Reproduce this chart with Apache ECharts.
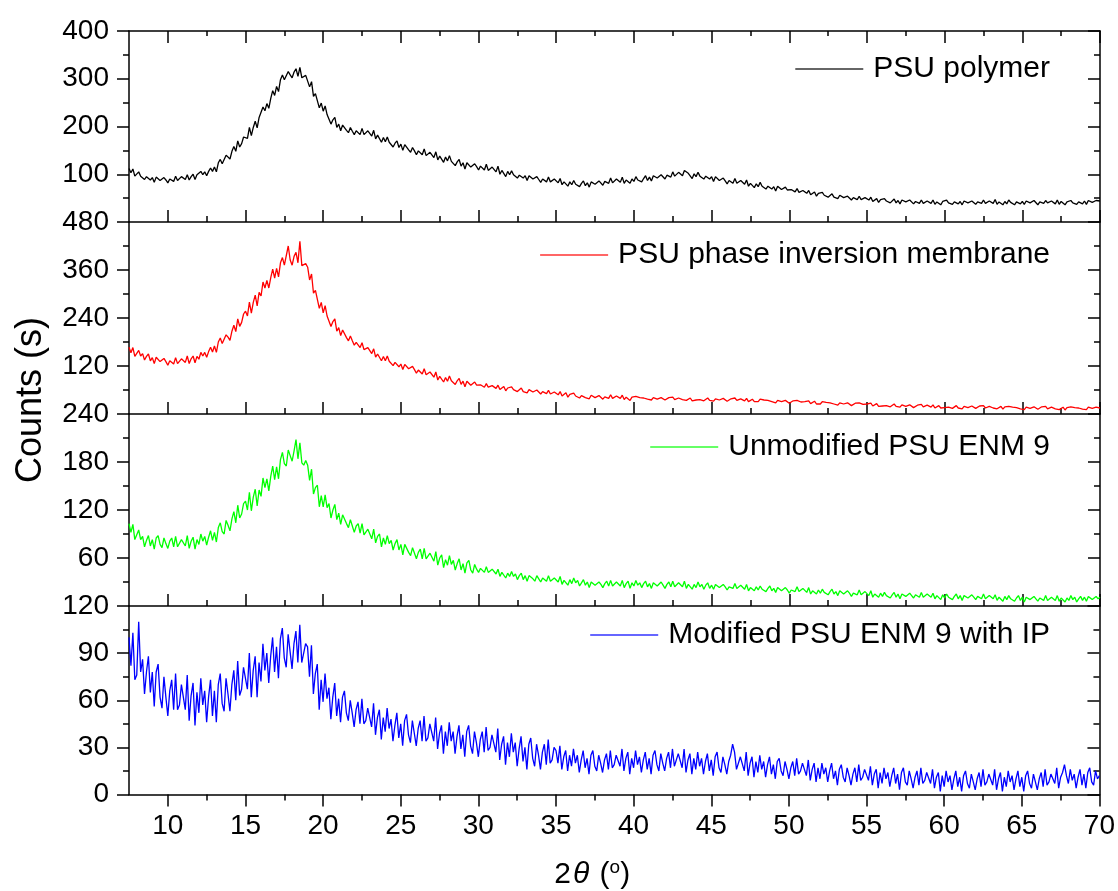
<!DOCTYPE html>
<html>
<head>
<meta charset="utf-8">
<script src="https://cdn.jsdelivr.net/npm/echarts@6/dist/echarts.min.js"></script>
<style>html,body{margin:0;padding:0;background:#fff}#chart{width:1118px;height:891px}</style>
</head>
<body>
<div id="chart"></div>
<script>
// Scan grid (2θ, degrees): first angle and step of the diffractometer scan
const angleStart = 7.5;
const angleStep = 0.125;

const seriesNames = ['PSU polymer', 'PSU phase inversion membrane', 'Unmodified PSU ENM 9', 'Modified PSU ENM 9 with IP'];
const seriesColors = ['#000000', '#ff0000', '#00ff00', '#0000ff'];

const psuPolymer = [
112,103,111,96,
97,105,96,99,89,95,99,88,
93,83,94,96,87,84,93,88,
82,90,93,85,96,87,89,95,
95,89,99,88,95,100,89,99,
95,106,99,105,97,106,113,106,
115,105,124,131,122,122,140,137,
132,148,158,148,170,157,164,178,
182,175,198,181,198,211,197,219,
216,241,233,248,238,259,275,265,
284,273,298,308,298,295,315,308,
302,314,321,305,324,302,300,307,
303,283,294,263,269,268,239,249,
232,243,225,226,205,214,219,198,
205,191,203,205,192,187,198,190,
183,191,195,183,196,183,184,191,
190,180,192,174,182,184,167,177,
168,178,167,170,157,165,170,156,
163,150,162,164,151,146,156,149,
141,149,152,141,153,139,140,146,
145,135,147,130,138,141,125,136,
128,139,127,131,118,126,131,117,
124,111,124,127,115,111,122,116,
109,117,120,109,121,108,109,115,
114,105,117,100,108,111,95,106,
99,107,99,102,92,98,102,92,
97,87,97,99,90,86,95,89,
83,90,93,84,94,84,85,90,
89,82,91,78,84,87,75,84,
78,87,79,83,74,81,86,76,
82,73,84,87,79,77,86,82,
77,85,89,81,92,82,84,90,
90,83,94,81,88,92,81,90,
85,95,88,92,84,91,97,87,
94,86,97,100,92,90,99,95,
90,98,102,94,105,96,98,104,
105,97,108,112,102,105,91,101,
95,104,96,99,90,96,100,90,
95,85,95,96,87,83,92,86,
80,87,90,81,91,81,82,87,
86,79,88,75,81,84,72,80,
74,83,75,78,69,75,79,69,
74,65,75,77,68,64,73,67,
63,68,70,63,70,62,63,66,
65,60,66,57,61,63,54,60,
56,62,56,59,52,56,59,52,
56,49,56,57,51,48,54,50,
46,51,53,47,54,47,48,51,
51,46,52,43,47,49,41,47,
43,49,44,46,40,44,48,40,
45,38,46,48,42,39,46,42,
38,43,45,39,46,39,40,44,
44,39,46,37,42,45,36,43,
39,46,40,43,37,42,45,38,
43,36,44,46,40,38,44,41,
37,42,45,39,46,39,40,44,
45,39,47,37,42,44,36,43,
38,46,41,43,36,42,46,38,
43,37,44,47,40,38,45,41,
36,42,46,39,45,40,40,44,
44,38,46,37,43,45,36,42,
39,45,40,44,37,42,46,38,
44,37,45,47,41,39,45,42,
44];

const psuPhaseInversion = [
167,153,166,144,
145,159,145,151,135,144,150,133,
141,126,142,145,131,126,139,131,
122,133,138,125,141,126,129,138,
139,129,145,126,138,145,128,144,
137,154,145,154,142,156,167,155,
170,154,180,190,176,174,198,192,
184,207,222,206,238,219,229,250,
257,245,280,252,279,297,270,304,
295,330,315,334,315,341,362,340,
364,343,378,391,372,367,420,385,
372,394,404,378,432,371,367,376,
367,335,350,302,309,308,264,279,
253,271,245,249,219,231,238,207,
216,196,210,210,191,183,195,183,
172,179,181,166,178,161,161,166,
163,151,163,142,150,153,133,144,
133,145,132,136,121,129,134,118,
125,111,124,127,113,108,119,111,
102,110,114,100,113,98,98,105,
103,92,105,85,94,98,80,91,
82,95,83,88,74,83,89,74,
82,68,82,85,72,67,80,72,
67,73,75,67,76,67,67,71,
71,64,72,61,66,69,58,65,
60,68,61,64,56,61,65,56,
61,53,61,63,55,52,60,55,
50,56,58,51,59,50,51,55,
55,48,56,45,50,53,42,49,
44,52,45,48,40,46,50,41,
46,38,47,49,41,39,46,42,
37,43,46,39,48,39,40,45,
45,39,47,36,42,45,34,42,
38,44,39,41,36,40,42,37,
40,35,41,42,37,36,41,38,
35,39,41,36,42,36,37,40,
40,36,41,34,38,40,33,38,
35,40,36,38,33,37,40,34,
37,32,38,40,35,33,39,36,
32,36,38,34,40,34,35,38,
37,33,39,31,35,37,31,36,
31,37,32,35,30,34,36,31,
33,28,34,35,31,29,34,31,
27,31,33,28,34,29,30,33,
31,27,33,26,30,32,25,30,
25,31,27,29,24,28,30,25,
27,22,28,29,25,23,28,25,
21,25,27,22,28,23,24,27,
25,21,27,20,24,26,19,24,
20,25,21,23,18,22,25,19,
22,17,23,24,19,18,23,20,
16,20,22,18,24,18,19,22,
21,17,23,15,19,21,15,20,
16,21,17,19,14,18,21,15,
18,13,19,21,16,15,20,17,
14,18,20,15,21,15,16,19,
19,15,20,13,17,19,12,18,
14,19,15,17,12,16,19,13,
16,11,17,19,14,12,18,15,
12,16,18,13,19,13,14,17,
17,13,18,11,15,17,10,16,
12,18,13,16,11,15,17,12,
16,11,17,18,14,12,17,14,
15];

const unmodifiedENM9 = [
103,92,102,83,
84,95,83,87,74,82,88,75,
83,71,85,88,77,73,85,78,
72,81,85,74,87,74,76,83,
83,75,88,72,81,86,71,83,
77,90,81,87,76,86,94,82,
92,80,98,104,93,90,107,101,
94,109,118,104,126,110,115,128,
131,120,142,119,136,146,125,145,
137,160,148,159,144,162,175,158,
174,159,183,192,178,175,195,188,
181,194,208,184,204,179,176,182,
176,157,171,140,148,151,124,138,
124,139,123,128,110,120,127,108,
116,102,114,116,103,98,108,100,
92,100,103,91,103,89,90,96,
94,84,96,79,87,90,74,85,
77,88,78,82,70,78,83,70,
77,64,77,79,67,63,73,66,
59,67,71,59,72,59,60,66,
65,56,68,51,60,64,48,58,
51,63,52,57,45,53,59,45,
53,41,54,57,45,41,52,46,
42,47,49,42,49,42,42,46,
45,40,46,37,42,44,35,41,
37,43,37,40,33,38,41,33,
38,31,38,40,34,31,38,34,
30,35,37,31,38,31,32,35,
35,30,37,27,32,34,26,33,
28,35,29,32,25,29,33,26,
30,23,30,32,26,24,30,27,
23,28,31,25,32,25,26,30,
30,25,32,23,28,31,22,29,
25,32,26,29,23,28,31,24,
28,22,29,31,25,23,30,26,
22,27,30,24,31,24,25,29,
29,24,31,22,27,29,21,27,
23,30,24,27,21,26,29,22,
26,21,27,28,23,22,27,24,
20,24,26,22,28,22,23,26,
25,21,27,19,23,25,19,24,
20,25,21,23,18,22,25,19,
22,17,23,24,19,18,23,20,
16,20,22,18,24,18,19,22,
21,17,23,15,19,21,15,20,
16,21,17,19,14,18,21,15,
18,13,19,20,15,14,19,16,
12,16,18,14,20,14,15,18,
17,13,19,11,15,17,11,16,
12,17,13,15,10,14,17,11,
15,9,15,17,12,11,16,13,
10,14,16,11,17,11,12,15,
15,11,16,9,13,15,8,14,
10,15,11,13,8,12,15,9,
13,7,13,15,10,9,14,11,
8,12,14,9,15,9,10,13,
13,9,14,7,11,13,6,12,
8,13,9,11,6,10,13,7,
11,5,11,13,8,7,12,9,
6,10,12,7,13,7,8,11,
11,7,13,6,10,12,5,10,
7,13,8,11,5,9,12,7,
11,6,12,13,8,7,12,9,
11];

const modifiedENM9IP = [
100,82,103,73,
76,110,78,86,64,78,88,65,
78,56,78,83,62,55,75,62,
50,66,73,54,77,54,57,70,
70,54,76,47,63,71,44,65,
52,74,57,66,46,62,73,50,
66,46,70,77,58,53,74,64,
53,70,79,60,85,63,67,81,
82,67,90,62,79,88,62,84,
72,96,79,90,71,88,100,78,
94,74,99,106,87,81,102,91,
80,96,104,84,108,84,85,96,
94,75,95,64,77,83,54,73,
59,77,61,68,48,62,71,50,
61,46,62,66,52,47,60,52,
43,54,59,45,61,45,47,55,
55,43,58,38,49,54,35,49,
40,55,42,48,34,44,52,36,
45,31,47,51,38,33,47,39,
31,42,47,34,50,34,36,45,
45,34,49,29,39,44,26,40,
31,46,34,40,26,37,44,29,
38,24,40,44,31,26,40,33,
24,35,40,27,43,28,30,38,
38,27,42,22,32,37,19,33,
24,39,27,33,18,29,37,21,
30,16,32,36,23,18,32,25,
16,27,32,19,35,20,22,30,
28,20,31,16,24,28,15,25,
18,29,20,25,14,22,28,17,
23,13,25,28,18,15,25,20,
14,22,26,16,28,17,19,25,
26,18,29,15,23,27,13,23,
17,28,19,24,14,22,27,16,
23,13,25,28,19,15,26,20,
15,23,27,17,29,18,19,26,
25,17,29,14,22,26,13,23,
16,27,18,23,13,21,26,15,
22,12,24,27,17,14,24,19,
13,21,25,32,27,16,17,24,
23,15,27,12,20,24,11,21,
14,25,16,21,11,19,24,13,
19,10,21,23,15,12,21,16,
10,17,21,12,23,13,15,20,
19,12,22,9,16,20,8,17,
10,20,13,17,8,15,20,10,
15,6,16,19,11,8,17,12,
6,13,17,8,19,9,11,16,
16,9,18,6,13,16,4,14,
7,17,10,14,5,12,17,7,
13,3,14,17,8,6,15,10,
4,11,15,6,17,7,9,14,
14,7,16,4,11,14,2,12,
5,15,8,12,3,10,15,5,
11,2,12,15,7,4,13,8,
3,10,14,5,16,6,8,13,
13,6,16,3,10,14,2,11,
5,15,8,12,3,10,15,5,
11,2,12,15,7,4,13,8,
3,10,14,5,16,6,8,13,
14,7,17,4,11,14,19,12,
7,16,9,13,4,11,16,6,
13,4,14,17,8,6,15,10,
12];

const allSeries = [psuPolymer, psuPhaseInversion, unmodifiedENM9, modifiedENM9IP];

const xMin = 7.5, xMax = 70;
const xMajorTicks = [10, 15, 20, 25, 30, 35, 40, 45, 50, 55, 60, 65, 70];
const xMinorTicks = [12.5, 17.5, 22.5, 27.5, 32.5, 37.5, 42.5, 47.5, 52.5, 57.5, 62.5, 67.5];
const yMaxes = [400, 480, 240, 120];
const yIntervals = [100, 120, 60, 30];

const FONT = 'Liberation Sans, Arial, Helvetica, sans-serif';
const gridTops = [31, 222, 414, 606];
const gridHeights = [191, 192, 192, 191];
const legendTops = [47, 233, 425, 613];

const grids = [], xAxes = [], yAxes = [], series = [], legends = [];
const lineC = '#000';

for (let i = 0; i < 4; i++) {
  grids.push({ left: 129, right: 18, top: gridTops[i], height: gridHeights[i], containLabel: false });
  const last = i === 3;
  const majorIdx = xAxes.length;
  xAxes.push({
    type: 'value', gridIndex: i, min: xMin, max: xMax, position: 'bottom',
    axisLine: { show: true, onZero: false, lineStyle: { color: lineC, width: 1.5 } },
    axisTick: { show: true, inside: !last, length: 12, customValues: xMajorTicks, lineStyle: { color: lineC, width: 1.5 } },
    axisLabel: { show: last, customValues: xMajorTicks, fontSize: 28, color: '#000', fontFamily: FONT, margin: 18 },
    splitLine: { show: false },
    name: last ? '2{i|θ} ({s|o})' : '',
    nameLocation: 'middle', nameGap: 64,
    nameTextStyle: {
      fontSize: 30, color: '#000', fontFamily: FONT, padding: [0, 44, 0, 0],
      rich: {
        i: { fontSize: 30, fontStyle: 'italic', fontFamily: FONT, color: '#000', padding: [0, 2, 0, 2] },
        s: { fontSize: 19, fontFamily: FONT, color: '#000', padding: [0, 0, 14, 0] }
      }
    }
  });
  xAxes.push({
    type: 'value', gridIndex: i, min: xMin, max: xMax, position: 'bottom',
    axisLine: { show: false, onZero: false },
    axisTick: { show: true, inside: !last, length: 6, customValues: xMinorTicks, lineStyle: { color: lineC, width: 1.5 } },
    axisLabel: { show: false }, splitLine: { show: false }
  });
  if (i === 0) {
    xAxes.push({
      type: 'value', gridIndex: i, min: xMin, max: xMax, position: 'top',
      axisLine: { show: true, onZero: false, lineStyle: { color: lineC, width: 1.5 } },
      axisTick: { show: true, inside: true, length: 12, customValues: xMajorTicks, lineStyle: { color: lineC, width: 1.5 } },
      axisLabel: { show: false }, splitLine: { show: false }
    });
    xAxes.push({
      type: 'value', gridIndex: i, min: xMin, max: xMax, position: 'top',
      axisLine: { show: false, onZero: false },
      axisTick: { show: true, inside: true, length: 5, customValues: xMinorTicks, lineStyle: { color: lineC, width: 1.5 } },
      axisLabel: { show: false }, splitLine: { show: false }
    });
  }
  const leftIdx = yAxes.length;
  yAxes.push({
    type: 'value', gridIndex: i, min: 0, max: yMaxes[i], interval: yIntervals[i], position: 'left',
    axisLine: { show: true, onZero: false, lineStyle: { color: lineC, width: 1.5 } },
    axisTick: { show: true, inside: false, length: 12, lineStyle: { color: lineC, width: 1.5 } },
    minorTick: { show: true, splitNumber: 2, length: 6, lineStyle: { color: lineC, width: 1.5 } },
    axisLabel: { show: true, showMinLabel: last, fontSize: 28, color: '#000', fontFamily: FONT, margin: 20 },
    splitLine: { show: false }, minorSplitLine: { show: false }
  });
  yAxes.push({
    type: 'value', gridIndex: i, min: 0, max: yMaxes[i], interval: yIntervals[i], position: 'right',
    axisLine: { show: true, onZero: false, lineStyle: { color: lineC, width: 1.5 } },
    axisTick: { show: true, inside: true, length: 12, lineStyle: { color: lineC, width: 1.5 } },
    minorTick: { show: true, splitNumber: 2, length: 6, lineStyle: { color: lineC, width: 1.5 } },
    axisLabel: { show: false }, splitLine: { show: false }, minorSplitLine: { show: false }
  });
  series.push({
    type: 'line', name: seriesNames[i], xAxisIndex: majorIdx, yAxisIndex: leftIdx,
    symbol: 'none', showSymbol: false, silent: true,
    lineStyle: { color: seriesColors[i], width: 1.3 },
    itemStyle: { color: seriesColors[i] },
    data: allSeries[i].map((v, k) => [angleStart + k * angleStep, v])
  });
  legends.push({
    data: [seriesNames[i]], right: 63, top: legendTops[i], orient: 'horizontal',
    icon: 'rect', itemWidth: 68, itemHeight: 1.5, selectedMode: false,
    itemStyle: { color: seriesColors[i], opacity: 0.8 },
    textStyle: { fontSize: 30, color: '#000', fontFamily: FONT, padding: [0, 0, 0, 5], lineHeight: 34 }
  });
}

const chart = echarts.init(document.getElementById('chart'), null, { renderer: 'canvas' });
chart.setOption({
  animation: false,
  backgroundColor: '#fff',
  grid: grids,
  xAxis: xAxes,
  yAxis: yAxes,
  legend: legends,
  series: series,
  graphic: [{
    type: 'text', x: 31, y: 400, rotation: Math.PI / 2,
    style: { text: 'Counts (s)', fontSize: 36, fontFamily: FONT, fill: '#000', align: 'center', verticalAlign: 'middle' }
  }]
});
</script>
</body>
</html>
